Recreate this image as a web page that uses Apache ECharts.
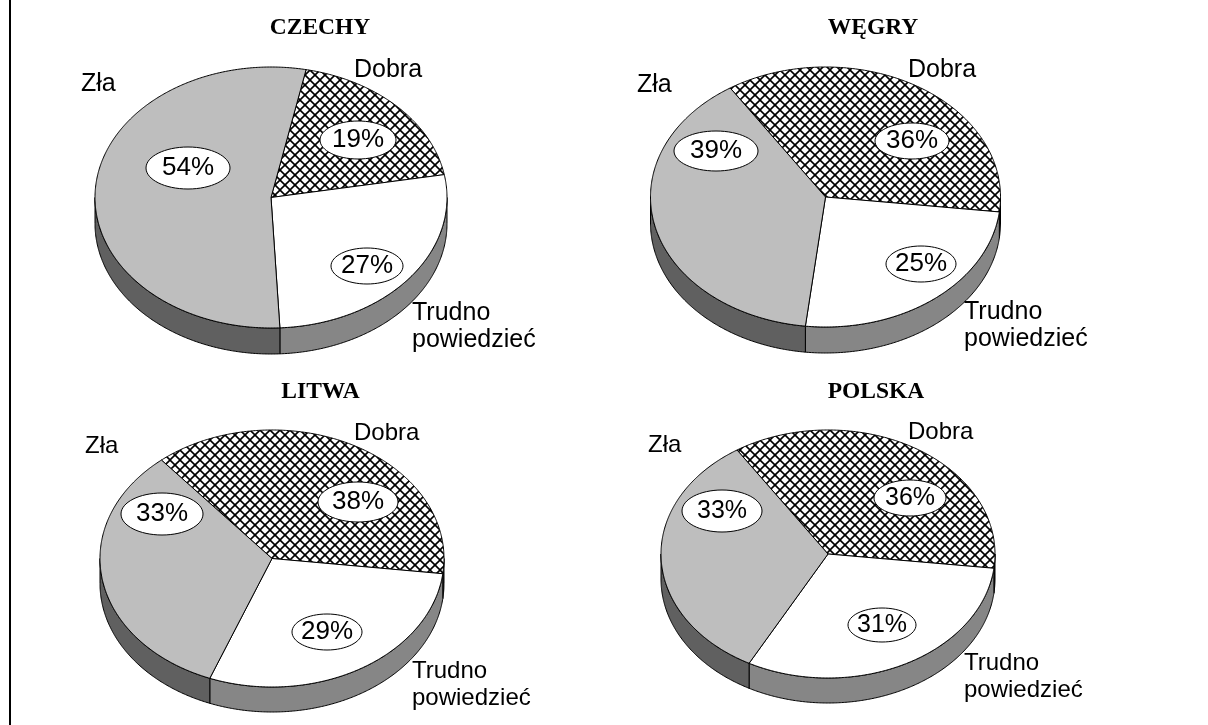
<!DOCTYPE html>
<html>
<head>
<meta charset="utf-8">
<style>
  html, body { margin: 0; padding: 0; background: #fff; }
  #main { width: 1208px; height: 725px; }
</style>
<script src="https://cdn.jsdelivr.net/npm/echarts@6/dist/echarts.min.js"></script>
</head>
<body>
<div id="main"></div>
<script>
  // data
  const countries = ['CZECHY', 'WĘGRY', 'LITWA', 'POLSKA'];
  const categories = ['Dobra', 'Trudno\npowiedzieć', 'Zła'];
  const dobra = [19, 36, 38, 36];
  const trudno = [27, 25, 29, 31];
  const zla = [54, 39, 33, 33];

  // layout of each pie: centre, radii, wall depth, rotation of first slice (deg, clockwise from top)
  const pieLayout = [
    {cx: 271, cy: 197.5, rx: 176, ry: 130.5, depth: 26, start: 11.5, titleX: 320, titleY: 28, capFont: 25, pctFont: 26},
    {cx: 825.5, cy: 197, rx: 175, ry: 130, depth: 26, start: -33, titleX: 873, titleY: 28, capFont: 25, pctFont: 26},
    {cx: 272, cy: 558.5, rx: 172, ry: 128.5, depth: 25, start: -40, titleX: 320.5, titleY: 392, capFont: 24, pctFont: 26},
    {cx: 828, cy: 554, rx: 167, ry: 124, depth: 25, start: -33, titleX: 876, titleY: 392, capFont: 24, pctFont: 25}
  ];
  // [x, y, rx, ry] of the white percent ovals, same order as categories
  const ovalLayout = [
    [[358, 140, 38, 19], [367, 266, 36, 18], [188, 168, 42, 21]],
    [[912, 141, 37, 18], [921, 264, 35, 18], [716, 151, 42, 20]],
    [[358, 502, 40, 20], [327, 632, 35, 18], [162, 514, 41, 21]],
    [[910, 498, 36, 18], [882, 625, 34, 17], [722, 511, 40, 21]]
  ];
  // left, middle of the category captions
  const captionLayout = [
    [[354, 70], [412, 326.5], [81, 84]],
    [[908, 70], [964, 326], [637, 85]],
    [[354, 433.5], [412, 685], [85, 446]],
    [[908, 432], [964, 677], [648, 445]]
  ];

  function hatchTile() {
    let size = 10;
    let c = document.createElement('canvas');
    c.width = size;
    c.height = size;
    let ctx = c.getContext('2d');
    ctx.fillStyle = '#fff';
    ctx.fillRect(0, 0, size, size);
    ctx.strokeStyle = '#000';
    ctx.lineWidth = 1.6;
    [[-size, size, size, -size], [0, size, size, 0], [0, 2 * size, 2 * size, 0],
      [0, 0, size, size], [-size, 0, size, 2 * size], [0, -size, 2 * size, size]].forEach(l => {
      ctx.beginPath();
      ctx.moveTo(l[0], l[1]);
      ctx.lineTo(l[2], l[3]);
      ctx.stroke();
    });
    return c;
  }

  const topFills = [{image: hatchTile(), repeat: 'repeat'}, '#fff', '#bebebe'];
  const wallFills = ['#303030', '#868686', '#606060'];

  function ellipsePoint(p, deg, dy) {
    let a = deg * Math.PI / 180;
    return [p.cx + p.rx * Math.sin(a), p.cy - p.ry * Math.cos(a) + dy];
  }

  function arcPoints(p, from, to, dy) {
    let pts = [];
    let n = Math.max(2, Math.ceil(Math.abs(to - from) / 0.5));
    for (let i = 0; i <= n; i++) {
      pts.push(ellipsePoint(p, from + (to - from) * i / n, dy));
    }
    return pts;
  }

  function makeRender(k, values) {
    let p = pieLayout[k];
    return function (params, api) {
      let i = params.dataIndex;
      let before = 0;
      for (let j = 0; j < i; j++) before += values[j];
      let total = values.reduce((a, b) => a + b, 0);
      let a0 = p.start + before / total * 360;
      let a1 = a0 + api.value(0) / total * 360;
      let children = [];

      // visible part of the wall: the front half of the ellipse
      let w0 = Math.max(a0, 90);
      let w1 = Math.min(a1, 270);
      if (w1 > w0) {
        children.push({
          type: 'polygon',
          shape: {points: arcPoints(p, w0, w1, 0).concat(arcPoints(p, w1, w0, p.depth))},
          style: {fill: wallFills[i], stroke: '#000', lineWidth: 1}
        });
      }
      children.push({
        type: 'polygon',
        shape: {points: [[p.cx, p.cy]].concat(arcPoints(p, a0, a1, 0))},
        style: {fill: topFills[i], stroke: '#000', lineWidth: 1}
      });

      let o = ovalLayout[k][i];
      children.push({
        type: 'ellipse',
        z2: 10,
        shape: {cx: o[0], cy: o[1], rx: o[2], ry: o[3]},
        style: {fill: '#fff', stroke: '#000', lineWidth: 1}
      });
      children.push({
        type: 'text',
        z2: 11,
        style: {
          text: api.value(0) + '%',
          x: o[0],
          y: o[1],
          align: 'center',
          verticalAlign: 'middle',
          font: p.pctFont + 'px "Liberation Sans"',
          fill: '#000'
        }
      });
      let cap = captionLayout[k][i];
      children.push({
        type: 'text',
        z2: 11,
        style: {
          text: categories[i],
          x: cap[0],
          y: cap[1],
          align: 'left',
          verticalAlign: 'middle',
          font: p.capFont + 'px "Liberation Sans"',
          lineHeight: 27,
          fill: '#000'
        }
      });
      return {type: 'group', children: children};
    };
  }

  let series = countries.map((name, k) => {
    let values = [dobra[k], trudno[k], zla[k]];
    return {
      type: 'custom',
      name: name,
      coordinateSystem: 'none',
      silent: true,
      animation: false,
      clip: false,
      data: values.map(v => [v]),
      renderItem: makeRender(k, values)
    };
  });

  let myChart = echarts.init(document.getElementById('main'), null, {renderer: 'canvas'});
  myChart.setOption({
    animation: false,
    backgroundColor: '#fff',
    title: countries.map((name, k) => ({
      text: name,
      left: pieLayout[k].titleX,
      top: pieLayout[k].titleY,
      textAlign: 'center',
      textVerticalAlign: 'middle',
      padding: 0,
      textStyle: {
        fontFamily: '"Liberation Serif"',
        fontWeight: 'bold',
        fontSize: 23.5,
        color: '#000'
      }
    })),
    graphic: [{
      type: 'line',
      shape: {x1: 10, y1: 0, x2: 10, y2: 725},
      style: {stroke: '#000', lineWidth: 2}
    }],
    series: series
  });
</script>
</body>
</html>
